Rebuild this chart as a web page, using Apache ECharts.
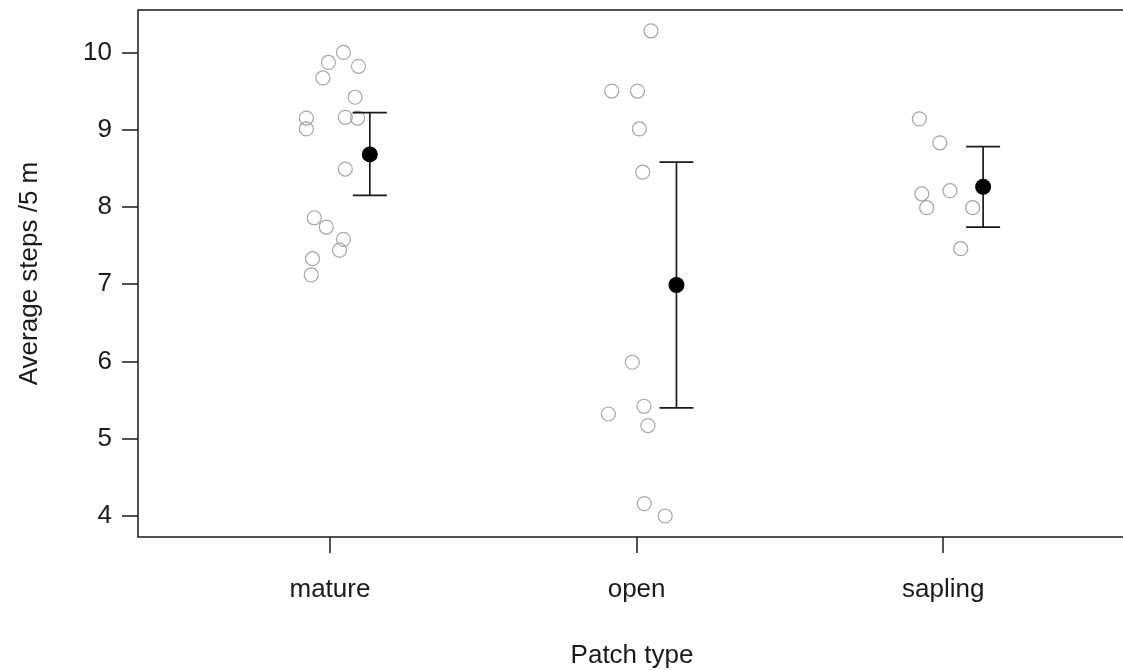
<!DOCTYPE html>
<html>
<head>
<meta charset="utf-8">
<script src="https://cdn.jsdelivr.net/npm/echarts@6/dist/echarts.min.js"></script>
<style>
  html, body { margin: 0; padding: 0; background: #fff; }
  #chart { width: 1123px; height: 670px; }
</style>
</head>
<body>
<div id="chart"></div>
<script>
// Patch types along the x axis
const categories = ['mature', 'open', 'sapling'];

// Individual observations (average steps per 5 m) with their horizontal jitter
const matureValues = [10.00, 9.87, 9.82, 9.67, 9.42, 9.15, 9.01, 9.16, 9.15, 8.49, 7.86, 7.74, 7.58, 7.44, 7.33, 7.12];
const matureJitter = [0.044, -0.005, 0.093, -0.023, 0.082, -0.077, -0.077, 0.050, 0.090, 0.050, -0.051, -0.012, 0.044, 0.031, -0.057, -0.061];

const openValues = [10.28, 9.50, 9.50, 9.01, 8.45, 5.99, 5.42, 5.32, 5.17, 4.16, 4.00];
const openJitter = [0.047, -0.081, 0.003, 0.009, 0.020, -0.014, 0.024, -0.092, 0.037, 0.025, 0.093];

const saplingValues = [9.14, 8.83, 8.17, 8.21, 7.99, 7.99, 7.46];
const saplingJitter = [-0.078, -0.011, -0.070, 0.022, -0.054, 0.096, 0.057];

// Group means with lower / upper error-bar limits
const groupMeans = [8.68, 6.99, 8.26];
const groupLower = [8.15, 5.40, 7.74];
const groupUpper = [9.22, 8.58, 8.78];

// Y axis tick values
const yTicks = [4, 5, 6, 7, 8, 9, 10];

// Mean markers sit slightly to the right of the raw points
const MEAN_SHIFT = 0.13;
const CAP_HALF_PX = 17;

const groups = [
  { values: matureValues, jitter: matureJitter },
  { values: openValues, jitter: openJitter },
  { values: saplingValues, jitter: saplingJitter }
];

const rawPoints = [];
groups.forEach((g, gi) => {
  g.values.forEach((v, i) => rawPoints.push([gi + 1 + g.jitter[i], v]));
});

const meanPoints = groupMeans.map((m, i) => [i + 1 + MEAN_SHIFT, m]);
const barData = groupMeans.map((m, i) => [i + 1 + MEAN_SHIFT, groupLower[i], groupUpper[i]]);

const FONT = 'Liberation Sans, Arial, sans-serif';
const INK = '#1a1a1a';

const chart = echarts.init(document.getElementById('chart'));
chart.setOption({
  animation: false,
  backgroundColor: '#ffffff',
  grid: {
    left: 138, width: 988, top: 10, height: 527,
    outerBoundsMode: 'none',
    containLabel: false,
    show: true, borderColor: INK, borderWidth: 1.5, backgroundColor: 'transparent'
  },
  xAxis: {
    type: 'value',
    min: 0.374,
    max: 3.596,
    name: 'Patch type',
    nameLocation: 'middle',
    nameGap: 106,
    nameTextStyle: { fontFamily: FONT, fontSize: 26, color: INK },
    axisLine: { show: false },
    splitLine: { show: false },
    axisTick: { show: true, length: 16, customValues: [1, 2, 3], lineStyle: { color: INK, width: 1.5 } },
    axisLabel: {
      customValues: [1, 2, 3],
      margin: 40,
      fontFamily: FONT, fontSize: 26, color: INK,
      formatter: v => categories[Math.round(v) - 1]
    }
  },
  yAxis: {
    type: 'value',
    min: 3.728,
    max: 10.549,
    name: 'Average steps /5 m',
    nameLocation: 'middle',
    nameGap: 95,
    nameRotate: 90,
    nameTextStyle: { fontFamily: FONT, fontSize: 26, color: INK },
    axisLine: { show: false },
    splitLine: { show: false },
    axisTick: { show: true, length: 16, customValues: yTicks, lineStyle: { color: INK, width: 1.5 } },
    axisLabel: {
      customValues: yTicks,
      margin: 26,
      fontFamily: FONT, fontSize: 26, color: INK
    }
  },
  series: [
    {
      type: 'scatter',
      data: rawPoints,
      symbol: 'circle',
      symbolSize: 14,
      itemStyle: { color: 'rgba(0,0,0,0)', borderColor: '#a6a6a6', borderWidth: 1.2, opacity: 1 },
      z: 2
    },
    {
      type: 'custom',
      data: barData,
      renderItem: function (params, api) {
        const x = api.value(0);
        const lo = api.coord([x, api.value(1)]);
        const hi = api.coord([x, api.value(2)]);
        const style = { stroke: INK, lineWidth: 1.7 };
        return {
          type: 'group',
          children: [
            { type: 'line', shape: { x1: lo[0], y1: lo[1], x2: hi[0], y2: hi[1] }, style },
            { type: 'line', shape: { x1: hi[0] - CAP_HALF_PX, y1: hi[1], x2: hi[0] + CAP_HALF_PX, y2: hi[1] }, style },
            { type: 'line', shape: { x1: lo[0] - CAP_HALF_PX, y1: lo[1], x2: lo[0] + CAP_HALF_PX, y2: lo[1] }, style }
          ]
        };
      },
      z: 3
    },
    {
      type: 'scatter',
      data: meanPoints,
      symbol: 'circle',
      symbolSize: 16,
      itemStyle: { color: '#000000', opacity: 1 },
      z: 4
    }
  ]
});
</script>
</body>
</html>
